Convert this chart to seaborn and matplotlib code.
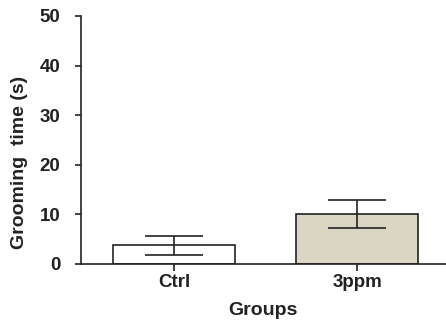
import matplotlib
matplotlib.use("Agg")
import matplotlib.pyplot as plt
import seaborn as sns
import pandas as pd

# Grooming time per group (mean ± error)
groups = ["Ctrl", "3ppm"]
means = [3.8, 10.0]
errors = [1.9, 2.8]
y_ticks = [0, 10, 20, 30, 40, 50]
bar_colors = ["#ffffff", "#ddd8c0"]

sns.set_theme(style="ticks")
plt.rcParams["font.family"] = ["Liberation Sans", "DejaVu Sans"]
plt.rcParams["font.weight"] = "bold"

text_color = "#222222"
fig = plt.figure(figsize=(4.46, 3.27), dpi=100)
ax = fig.add_axes([0.1816, 0.1927, 0.8184, 0.7584])

df = pd.DataFrame({"Groups": groups, "time": means})
sns.barplot(data=df, x="Groups", y="time", hue="Groups", palette=bar_colors,
            order=groups, hue_order=groups, errorbar=None, width=0.667,
            edgecolor=text_color, linewidth=1.2, legend=False, ax=ax)

ax.errorbar(range(len(groups)), means, yerr=errors, fmt="none",
            ecolor=text_color, elinewidth=1.2, capsize=21, capthick=1.2)

ax.set_xlim(-0.508, 1.486)
ax.set_ylim(0, 50)
ax.set_yticks(y_ticks)
ax.set_yticklabels([str(t) for t in y_ticks])

sns.despine(ax=ax)
for side in ("left", "bottom"):
    ax.spines[side].set_linewidth(1.2)
    ax.spines[side].set_color(text_color)

ax.tick_params(axis="y", length=4, width=1.2, color=text_color, pad=11,
               labelsize=13.5, labelcolor=text_color)
ax.tick_params(axis="x", length=5, width=1.2, color=text_color, pad=2,
               labelsize=13.5, labelcolor=text_color)

ax.set_xlabel("Groups", fontsize=14, fontweight="bold", color=text_color)
ax.set_ylabel("Grooming  time (s)", fontsize=14, fontweight="bold", color=text_color)
ax.xaxis.set_label_coords(0.499, -0.155)
ax.yaxis.set_label_coords(-0.146, 0.41)

fig.savefig("out.png", dpi=100)
